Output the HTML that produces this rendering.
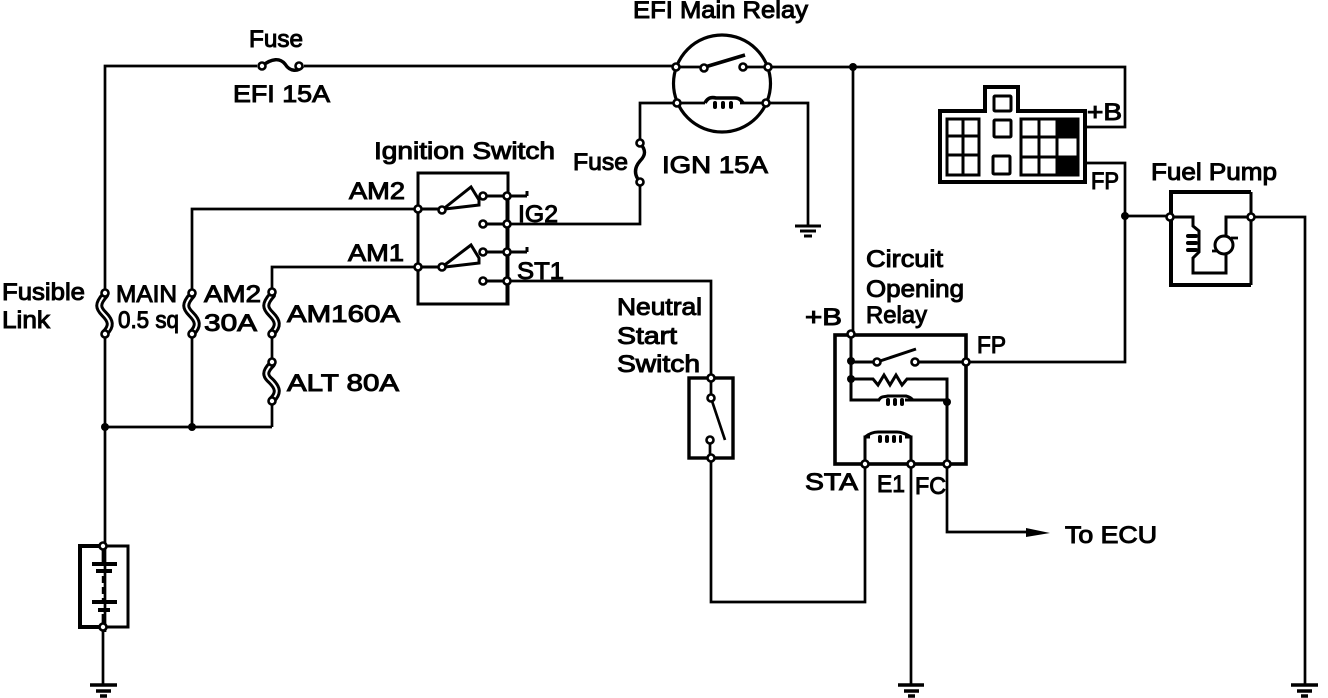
<!DOCTYPE html>
<html><head><meta charset="utf-8"><style>
html,body{margin:0;padding:0;background:#fff}
svg{display:block}
text{font-family:"Liberation Sans",sans-serif;font-size:24px;fill:#000;stroke:#000;stroke-width:1px;letter-spacing:0}
.w{fill:none;stroke:#000;stroke-width:2.7}
.b{fill:none;stroke:#000;stroke-width:4}
.n{fill:#fff;stroke:#000;stroke-width:2.6}
.d{fill:#000;stroke:none}
</style></head><body>
<svg width="1328" height="698" viewBox="0 0 1328 698" xmlns="http://www.w3.org/2000/svg">
<!-- wires -->
<path class="w" d="M105 293V66H257M304 66H676M768 67H1125V127H1085"/>
<path class="w" d="M853 67V335"/>
<path class="w" d="M105 334V632M192 293V209H418M192 334V427M272 293V267H418M272 334V362M272 401V427M105 427H272"/>
<path class="w" d="M103 627V685"/>
<path class="w" d="M676 67H704M743 67H768M677 103H705M740 103H808V226M677 103H640V143M640 182V224H507"/>
<path class="w" d="M507 281H711V378M711 458V602H865V464M911 464V685M947 464V532H1035"/>
<path class="w" d="M966 362H1125V163H1085M1125 216H1170M1251 217H1305V685"/>
<!-- fuses -->
<path d="M262 66C272 58 280 58 285 64C290 72 298 72 303 66" fill="none" stroke="#000" stroke-width="3.4"/>
<path d="M640 143C646 150 646 155 640 161C634 168 634 175 640 182" fill="none" stroke="#000" stroke-width="3.4"/>
<g fill="none" stroke-linecap="round">
<path d="M105 295C97 304 98 308 104 314C111 321 112 326 105 333" stroke="#000" stroke-width="8"/>
<path d="M105 295C97 304 98 308 104 314C111 321 112 326 105 333" stroke="#fff" stroke-width="2"/>
<path d="M192 295C184 304 185 308 191 314C198 321 199 326 192 333" stroke="#000" stroke-width="8"/>
<path d="M192 295C184 304 185 308 191 314C198 321 199 326 192 333" stroke="#fff" stroke-width="2"/>
<path d="M272 295C264 304 265 308 271 314C278 321 279 326 272 333" stroke="#000" stroke-width="8"/>
<path d="M272 295C264 304 265 308 271 314C278 321 279 326 272 333" stroke="#fff" stroke-width="2"/>
<path d="M272 364C264 372 265 376 271 381C278 388 279 393 272 400" stroke="#000" stroke-width="8"/>
<path d="M272 364C264 372 265 376 271 381C278 388 279 393 272 400" stroke="#fff" stroke-width="2"/>
</g>
<!-- EFI relay -->
<circle cx="722" cy="83.5" r="48.5" fill="none" stroke="#000" stroke-width="3.2"/>
<path fill="none" stroke="#000" stroke-width="3.6" d="M705 67L745 55M705 103C708 97 712 97 716 98H735C739 98 741 100 743 103"/>
<rect x="713" y="101" width="4" height="8" rx="2" class="d"/><rect x="721" y="101" width="4" height="8" rx="2" class="d"/><rect x="729" y="101" width="4" height="8" rx="2" class="d"/>
<!-- grounds -->
<path class="b" style="stroke-width:3" d="M795 226H821M800 231H816M804 236H812"/>
<path class="b" style="stroke-width:3.4" d="M90 685H117M96 691H111M100 696H107"/>
<path class="b" style="stroke-width:3.4" d="M898 685H924M904 691H919M908 696H915"/>
<path class="b" style="stroke-width:3.4" d="M1291 685H1318M1297 691H1312M1301 696H1308"/>
<!-- ignition switch -->
<rect x="418" y="173" width="90" height="131" fill="none" stroke="#000" stroke-width="3"/>
<path class="w" style="stroke-width:3" d="M507 196V304M418 209H442M418 267H442M483 196H527M527 191V196M483 224H507M483 252H527M527 247V252M483 281H507"/>
<path fill="none" stroke="#000" stroke-width="3" d="M442 210L471 187L479 200V205L445 209M442 267L471 245L479 258V263L445 267"/>
<!-- battery -->
<path fill="none" stroke="#000" stroke-width="4" d="M103 546H80V627H103"/>
<path fill="none" stroke="#000" stroke-width="3" d="M103 546H128V627H103"/>
<path fill="none" stroke="#000" stroke-width="2.4" stroke-dasharray="7 4" d="M103 576V602"/>
<path class="w" d="M103 546V563M103 614V627"/>
<path stroke="#000" stroke-width="4" d="M92 564H117M96 571H112M92 602H117M98 610H110"/>
<!-- neutral switch -->
<rect x="689" y="378" width="44" height="80" fill="none" stroke="#000" stroke-width="3.4"/>
<path class="w" d="M711 378V398M710 440V458M711 398L725 440"/>
<!-- circuit opening relay -->
<rect x="835" y="335" width="131" height="129" fill="none" stroke="#000" stroke-width="3.6"/>
<path class="w" style="stroke-width:3" d="M851 335V400H880M905 400H947M851 362H877M915 362H966M851 379H873L878 385L884 375L890 385L896 375L902 385L907 379H947V464M865 464V437H870M905 437H911V464"/>
<path fill="none" stroke="#000" stroke-width="3" d="M877 362L916 349M879 400C881 396 884 397 888 396H906C910 397 911 398 913 400M865 437C870 433 874 432 878 432H897C902 432 906 434 911 437"/>
<g class="d"><rect x="886" y="398" width="4" height="8" rx="2"/><rect x="893" y="398" width="4" height="8" rx="2"/><rect x="900" y="398" width="4" height="8" rx="2"/>
<rect x="878" y="435" width="4" height="8" rx="2"/><rect x="885" y="435" width="4" height="8" rx="2"/><rect x="892" y="435" width="4" height="8" rx="2"/><rect x="899" y="435" width="3" height="8" rx="1.5"/></g>
<path class="d" d="M1026 528L1050 533L1026 537Z"/>
<!-- connector -->
<path fill="none" stroke="#000" stroke-width="4" d="M940 111H985V87H1018V111H1085V182H940Z"/>
<g fill="none" stroke="#000" stroke-width="3">
<path d="M947 119H979V175H947ZM963 119V175M947 136H979M947 155H979"/>
<path d="M1021 119H1078V175H1021ZM1039 119V175M1057 119V175M1021 137H1078M1021 157H1078"/>
<rect x="994" y="96" width="17" height="15" rx="1"/><rect x="994" y="120" width="17" height="17" rx="1"/><rect x="993" y="156" width="17" height="18" rx="1"/>
</g>
<rect x="1057" y="118" width="21" height="19" class="d"/><rect x="1057" y="157" width="21" height="19" class="d"/>
<!-- fuel pump -->
<path fill="none" stroke="#000" stroke-width="4" d="M1171 217V192H1251M1171 217V285H1251"/>
<path fill="none" stroke="#000" stroke-width="3" d="M1251 192V285"/>
<path class="w" style="stroke-width:3" d="M1170 217H1193V226L1199 231V252L1193 258V273H1226V253M1251 217H1226V236"/>
<circle cx="1224" cy="245" r="9" fill="#fff" stroke="#000" stroke-width="3"/>
<path class="w" d="M1231 238H1238M1212 251H1218"/>
<g class="d"><rect x="1186" y="234" width="12" height="4" rx="2"/><rect x="1186" y="241" width="12" height="4" rx="2"/><rect x="1186" y="248" width="12" height="4" rx="2"/></g>
<!-- dots -->
<g class="d"><circle cx="853" cy="67" r="4"/><circle cx="105" cy="427" r="4"/><circle cx="192" cy="427" r="4"/><circle cx="1125" cy="216" r="4"/><circle cx="851" cy="361" r="4"/><circle cx="851" cy="379" r="4"/><circle cx="947" cy="402" r="4"/></g>
<!-- nodes -->
<g class="n">
<circle cx="262" cy="66" r="3.5"/><circle cx="299" cy="66" r="3.5"/>
<circle cx="676" cy="67" r="3.5"/><circle cx="704" cy="68" r="3.5"/><circle cx="743" cy="67" r="3.5"/><circle cx="768" cy="67" r="3.5"/><circle cx="677" cy="103" r="3.5"/><circle cx="766" cy="103" r="3.5"/>
<circle cx="640" cy="143" r="3.5"/><circle cx="640" cy="182" r="3.5"/>
<circle cx="105" cy="293" r="3.5"/><circle cx="105" cy="334" r="3.5"/><circle cx="192" cy="293" r="3.5"/><circle cx="192" cy="334" r="3.5"/><circle cx="272" cy="292" r="3.5"/><circle cx="272" cy="334" r="3.5"/><circle cx="272" cy="362" r="3.5"/><circle cx="272" cy="401" r="3.5"/>
<circle cx="418" cy="209" r="3.5"/><circle cx="418" cy="267" r="3.5"/><circle cx="442" cy="210" r="3.5"/><circle cx="442" cy="267" r="3.5"/>
<circle cx="483" cy="196" r="3.5"/><circle cx="483" cy="224" r="3.5"/><circle cx="483" cy="252" r="3.5"/><circle cx="483" cy="281" r="3.5"/>
<circle cx="507" cy="196" r="3.5"/><circle cx="507" cy="224" r="3.5"/><circle cx="507" cy="252" r="3.5"/><circle cx="507" cy="281" r="3.5"/>
<circle cx="103" cy="546" r="3.5"/><circle cx="103" cy="627" r="3.5"/>
<circle cx="711" cy="378" r="3.5"/><circle cx="711" cy="398" r="3.5"/><circle cx="710" cy="440" r="3.5"/><circle cx="711" cy="458" r="3.5"/>
<circle cx="851" cy="334" r="3.5"/><circle cx="877" cy="362" r="3.5"/><circle cx="915" cy="362" r="3.5"/><circle cx="966" cy="362" r="3.5"/><circle cx="865" cy="464" r="3.5"/><circle cx="911" cy="464" r="3.5"/><circle cx="947" cy="464" r="3.5"/>
<circle cx="1170" cy="217" r="3.5"/><circle cx="1251" cy="217" r="3.5"/>
</g>
<!-- labels -->
<g>
<text x="633" y="18" textLength="175" lengthAdjust="spacingAndGlyphs">EFI Main Relay</text>
<text x="249" y="47" textLength="54" lengthAdjust="spacingAndGlyphs">Fuse</text>
<text x="233" y="102" textLength="97" lengthAdjust="spacingAndGlyphs">EFI 15A</text>
<text x="374" y="159" textLength="181" lengthAdjust="spacingAndGlyphs">Ignition Switch</text>
<text x="573" y="170" textLength="55" lengthAdjust="spacingAndGlyphs">Fuse</text>
<text x="662" y="173" textLength="106" lengthAdjust="spacingAndGlyphs">IGN 15A</text>
<text x="349" y="199" textLength="56" lengthAdjust="spacingAndGlyphs">AM2</text>
<text x="518" y="222" textLength="40" lengthAdjust="spacingAndGlyphs">IG2</text>
<text x="348" y="261" textLength="56" lengthAdjust="spacingAndGlyphs">AM1</text>
<text x="517" y="279" textLength="47" lengthAdjust="spacingAndGlyphs">ST1</text>
<text x="2" y="300" textLength="83" lengthAdjust="spacingAndGlyphs">Fusible</text>
<text x="2" y="328" textLength="48" lengthAdjust="spacingAndGlyphs">Link</text>
<text x="116" y="302" textLength="61" lengthAdjust="spacingAndGlyphs">MAIN</text>
<text x="118" y="328" textLength="61" lengthAdjust="spacingAndGlyphs">0.5 sq</text>
<text x="204" y="302" textLength="57" lengthAdjust="spacingAndGlyphs">AM2</text>
<text x="204" y="331" textLength="53" lengthAdjust="spacingAndGlyphs">30A</text>
<text x="287" y="322" textLength="113" lengthAdjust="spacingAndGlyphs">AM160A</text>
<text x="287" y="391" textLength="112" lengthAdjust="spacingAndGlyphs">ALT 80A</text>
<text x="617" y="315" textLength="85" lengthAdjust="spacingAndGlyphs">Neutral</text>
<text x="617" y="344" textLength="60" lengthAdjust="spacingAndGlyphs">Start</text>
<text x="617" y="372" textLength="83" lengthAdjust="spacingAndGlyphs">Switch</text>
<text x="866" y="267" textLength="77" lengthAdjust="spacingAndGlyphs">Circuit</text>
<text x="866" y="297" textLength="98" lengthAdjust="spacingAndGlyphs">Opening</text>
<text x="866" y="323" textLength="61" lengthAdjust="spacingAndGlyphs">Relay</text>
<text x="805" y="325" textLength="37" lengthAdjust="spacingAndGlyphs">+B</text>
<text x="977" y="353" textLength="29" lengthAdjust="spacingAndGlyphs">FP</text>
<text x="805" y="490" textLength="53" lengthAdjust="spacingAndGlyphs">STA</text>
<text x="877" y="492" textLength="28" lengthAdjust="spacingAndGlyphs">E1</text>
<text x="915" y="494" textLength="31" lengthAdjust="spacingAndGlyphs">FC</text>
<text x="1065" y="543" textLength="92" lengthAdjust="spacingAndGlyphs">To ECU</text>
<text x="1087" y="120" textLength="35" lengthAdjust="spacingAndGlyphs">+B</text>
<text x="1091" y="189" textLength="28" lengthAdjust="spacingAndGlyphs">FP</text>
<text x="1151" y="180" textLength="126" lengthAdjust="spacingAndGlyphs">Fuel Pump</text>
</g>
</svg>
</body></html>
